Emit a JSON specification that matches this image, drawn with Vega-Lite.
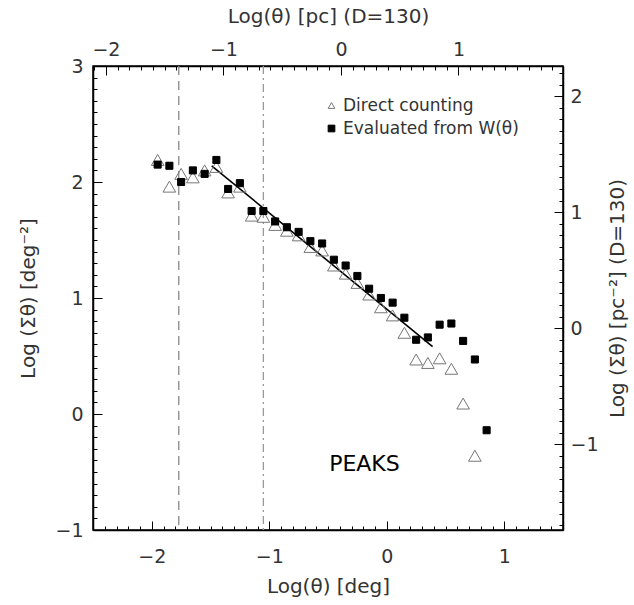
{
  "$schema": "https://vega.github.io/schema/vega-lite/v6.json",
  "width": 470,
  "height": 464,
  "autosize": "none",
  "padding": {"left": 93, "top": 66, "right": 71, "bottom": 75},
  "config": {
    "view": {"stroke": "black", "strokeWidth": 1.5},
    "font": "DejaVu Sans",
    "axis": {
      "grid": false,
      "domainColor": "black",
      "domainWidth": 1.5,
      "tickColor": "black",
      "tickWidth": 1,
      "labelFont": "DejaVu Sans",
      "labelFontSize": 19,
      "labelColor": "#333",
      "labelOverlap": false,
      "labelFlush": false,
      "titleFont": "DejaVu Sans",
      "titleFontSize": 20,
      "titleFontWeight": "normal",
      "titleColor": "#333"
    }
  },
  "layer": [
    {
      "data": {"values": [{}]},
      "mark": {"type": "rule", "color": "#888", "strokeDash": [9, 6], "strokeWidth": 1.3},
      "encoding": {"x": {"datum": -1.77, "type": "quantitative", "scale": {"domain": [-2.5, 1.5], "nice": false, "zero": false}, "axis": null}}
    },
    {
      "data": {"values": [{}]},
      "mark": {"type": "rule", "color": "#999", "strokeDash": [8, 4, 2, 4], "strokeWidth": 1.3},
      "encoding": {"x": {"datum": -1.05, "type": "quantitative", "scale": {"domain": [-2.5, 1.5], "nice": false, "zero": false}, "axis": null}}
    },
    {
      "data": {"values": [{"x": -1.49, "y": 2.14}, {"x": 0.39, "y": 0.58}]},
      "mark": {"type": "line", "color": "black", "strokeWidth": 1.6},
      "encoding": {
        "x": {"field": "x", "type": "quantitative", "scale": {"domain": [-2.5, 1.5], "nice": false, "zero": false}, "axis": null},
        "y": {"field": "y", "type": "quantitative", "scale": {"domain": [-1, 3], "nice": false, "zero": false}, "axis": null}
      }
    },
    {
      "data": {"values": [
        {"s": "Direct counting", "x": -1.95, "y": 2.19},
        {"s": "Direct counting", "x": -1.85, "y": 1.96},
        {"s": "Direct counting", "x": -1.75, "y": 2.07},
        {"s": "Direct counting", "x": -1.65, "y": 2.04},
        {"s": "Direct counting", "x": -1.55, "y": 2.10},
        {"s": "Direct counting", "x": -1.45, "y": 2.13},
        {"s": "Direct counting", "x": -1.35, "y": 1.91},
        {"s": "Direct counting", "x": -1.25, "y": 1.96},
        {"s": "Direct counting", "x": -1.15, "y": 1.71},
        {"s": "Direct counting", "x": -1.05, "y": 1.70},
        {"s": "Direct counting", "x": -0.95, "y": 1.63},
        {"s": "Direct counting", "x": -0.85, "y": 1.58},
        {"s": "Direct counting", "x": -0.75, "y": 1.54},
        {"s": "Direct counting", "x": -0.65, "y": 1.44},
        {"s": "Direct counting", "x": -0.55, "y": 1.41},
        {"s": "Direct counting", "x": -0.45, "y": 1.28},
        {"s": "Direct counting", "x": -0.35, "y": 1.21},
        {"s": "Direct counting", "x": -0.25, "y": 1.13},
        {"s": "Direct counting", "x": -0.15, "y": 1.03},
        {"s": "Direct counting", "x": -0.05, "y": 0.92},
        {"s": "Direct counting", "x": 0.05, "y": 0.85},
        {"s": "Direct counting", "x": 0.15, "y": 0.70},
        {"s": "Direct counting", "x": 0.25, "y": 0.47},
        {"s": "Direct counting", "x": 0.35, "y": 0.44},
        {"s": "Direct counting", "x": 0.45, "y": 0.48},
        {"s": "Direct counting", "x": 0.55, "y": 0.39},
        {"s": "Direct counting", "x": 0.65, "y": 0.09},
        {"s": "Direct counting", "x": 0.75, "y": -0.36},
        {"s": "Evaluated from W(θ)", "x": -1.95, "y": 2.15},
        {"s": "Evaluated from W(θ)", "x": -1.85, "y": 2.14},
        {"s": "Evaluated from W(θ)", "x": -1.75, "y": 2.00},
        {"s": "Evaluated from W(θ)", "x": -1.65, "y": 2.10},
        {"s": "Evaluated from W(θ)", "x": -1.55, "y": 2.07},
        {"s": "Evaluated from W(θ)", "x": -1.45, "y": 2.19},
        {"s": "Evaluated from W(θ)", "x": -1.35, "y": 1.94},
        {"s": "Evaluated from W(θ)", "x": -1.25, "y": 1.99},
        {"s": "Evaluated from W(θ)", "x": -1.15, "y": 1.75},
        {"s": "Evaluated from W(θ)", "x": -1.05, "y": 1.75},
        {"s": "Evaluated from W(θ)", "x": -0.95, "y": 1.66},
        {"s": "Evaluated from W(θ)", "x": -0.85, "y": 1.61},
        {"s": "Evaluated from W(θ)", "x": -0.75, "y": 1.57},
        {"s": "Evaluated from W(θ)", "x": -0.65, "y": 1.49},
        {"s": "Evaluated from W(θ)", "x": -0.55, "y": 1.47},
        {"s": "Evaluated from W(θ)", "x": -0.45, "y": 1.33},
        {"s": "Evaluated from W(θ)", "x": -0.35, "y": 1.28},
        {"s": "Evaluated from W(θ)", "x": -0.25, "y": 1.19},
        {"s": "Evaluated from W(θ)", "x": -0.15, "y": 1.08},
        {"s": "Evaluated from W(θ)", "x": -0.05, "y": 1.00},
        {"s": "Evaluated from W(θ)", "x": 0.05, "y": 0.96},
        {"s": "Evaluated from W(θ)", "x": 0.15, "y": 0.83},
        {"s": "Evaluated from W(θ)", "x": 0.25, "y": 0.64},
        {"s": "Evaluated from W(θ)", "x": 0.35, "y": 0.66},
        {"s": "Evaluated from W(θ)", "x": 0.45, "y": 0.77},
        {"s": "Evaluated from W(θ)", "x": 0.55, "y": 0.78},
        {"s": "Evaluated from W(θ)", "x": 0.65, "y": 0.63},
        {"s": "Evaluated from W(θ)", "x": 0.75, "y": 0.47},
        {"s": "Evaluated from W(θ)", "x": 0.85, "y": -0.14}
      ]},
      "mark": {"type": "point", "opacity": 1, "strokeWidth": 1},
      "encoding": {
        "x": {
          "field": "x", "type": "quantitative",
          "scale": {"domain": [-2.5, 1.5], "nice": false, "zero": false},
          "axis": {
            "orient": "bottom",
            "title": "Log(θ)  [deg]",
            "values": [-2.4,-2.3,-2.2,-2.1,-2,-1.9,-1.8,-1.7,-1.6,-1.5,-1.4,-1.3,-1.2,-1.1,-1,-0.9,-0.8,-0.7,-0.6,-0.5,-0.4,-0.3,-0.2,-0.1,0,0.1,0.2,0.3,0.4,0.5,0.6,0.7,0.8,0.9,1,1.1,1.2,1.3,1.4],
            "labelExpr": "abs(datum.value-round(datum.value))<0.001 ? format(round(datum.value),'d') : ''",
            "tickSize": {"condition": {"test": "abs(datum.value-round(datum.value))<0.001", "value": -9}, "value": -4},
            "labelPadding": 26,
            "titlePadding": 5
          }
        },
        "y": {
          "field": "y", "type": "quantitative",
          "scale": {"domain": [-1, 3], "nice": false, "zero": false},
          "axis": {
            "orient": "left",
            "title": "Log (Σθ)  [deg⁻²]",
            "values": [-1,-0.9,-0.8,-0.7,-0.6,-0.5,-0.4,-0.3,-0.2,-0.1,0,0.1,0.2,0.3,0.4,0.5,0.6,0.7,0.8,0.9,1,1.1,1.2,1.3,1.4,1.5,1.6,1.7,1.8,1.9,2,2.1,2.2,2.3,2.4,2.5,2.6,2.7,2.8,2.9,3],
            "labelExpr": "abs(datum.value-round(datum.value))<0.001 ? format(round(datum.value),'d') : ''",
            "tickSize": {"condition": {"test": "abs(datum.value-round(datum.value))<0.001", "value": -9}, "value": -4},
            "labelPadding": 19,
            "titlePadding": 16
          }
        },
        "shape": {
          "field": "s", "type": "nominal",
          "scale": {"domain": ["Direct counting", "Evaluated from W(θ)"], "range": ["triangle-up", "square"]},
          "legend": {"orient": "none", "legendX": 230, "legendY": 31, "title": null, "labelFontSize": 17, "labelLimit": 400, "labelColor": "#333", "labelFont": "DejaVu Sans", "symbolSize": 45, "symbolStrokeWidth": 1, "rowPadding": 5, "padding": 0, "labelOffset": 3}
        },
        "fill": {
          "field": "s", "type": "nominal",
          "scale": {"domain": ["Direct counting", "Evaluated from W(θ)"], "range": ["transparent", "black"]},
          "legend": {"orient": "none", "legendX": 230, "legendY": 31, "title": null, "labelFontSize": 17, "labelLimit": 400, "labelColor": "#333", "labelFont": "DejaVu Sans", "symbolSize": 45, "symbolStrokeWidth": 1, "rowPadding": 5, "padding": 0, "labelOffset": 3}
        },
        "stroke": {
          "field": "s", "type": "nominal",
          "scale": {"domain": ["Direct counting", "Evaluated from W(θ)"], "range": ["#777", "black"]},
          "legend": {"orient": "none", "legendX": 230, "legendY": 31, "title": null, "labelFontSize": 17, "labelLimit": 400, "labelColor": "#333", "labelFont": "DejaVu Sans", "symbolSize": 45, "symbolStrokeWidth": 1, "rowPadding": 5, "padding": 0, "labelOffset": 3}
        },
        "size": {
          "field": "s", "type": "nominal",
          "scale": {"domain": ["Evaluated from W(θ)", "Direct counting"], "range": [50, 160]},
          "legend": null
        }
      }
    },
    {
      "data": {"values": [{}]},
      "mark": {"type": "text", "text": "PEAKS", "fontSize": 22, "font": "DejaVu Sans", "color": "black"},
      "encoding": {
        "x": {"datum": -0.19, "type": "quantitative", "scale": {"domain": [-2.5, 1.5], "nice": false, "zero": false}, "axis": null},
        "y": {"datum": -0.43, "type": "quantitative", "scale": {"domain": [-1, 3], "nice": false, "zero": false}, "axis": null}
      }
    },
    {
      "data": {"values": [{}]},
      "mark": {"type": "point", "opacity": 0},
      "encoding": {
        "x": {
          "datum": 0, "type": "quantitative",
          "scale": {"domain": [-2.11, 1.89], "nice": false, "zero": false},
          "axis": {
            "orient": "top",
            "title": "Log(θ)  [pc]  (D=130)",
            "values": [-2.1,-2,-1.9,-1.8,-1.7,-1.6,-1.5,-1.4,-1.3,-1.2,-1.1,-1,-0.9,-0.8,-0.7,-0.6,-0.5,-0.4,-0.3,-0.2,-0.1,0,0.1,0.2,0.3,0.4,0.5,0.6,0.7,0.8,0.9,1,1.1,1.2,1.3,1.4,1.5,1.6,1.7,1.8],
            "labelExpr": "abs(datum.value-round(datum.value))<0.001 ? format(round(datum.value),'d') : ''",
            "tickSize": {"condition": {"test": "abs(datum.value-round(datum.value))<0.001", "value": -9}, "value": -4},
            "labelPadding": 16,
            "titlePadding": 9
          }
        },
        "y": {
          "datum": 0, "type": "quantitative",
          "scale": {"domain": [-1.74, 2.26], "nice": false, "zero": false},
          "axis": {
            "orient": "right",
            "title": "Log (Σθ)  [pc⁻²]  (D=130)",
            "titleAngle": 270,
            "values": [-1.7,-1.6,-1.5,-1.4,-1.3,-1.2,-1.1,-1,-0.9,-0.8,-0.7,-0.6,-0.5,-0.4,-0.3,-0.2,-0.1,0,0.1,0.2,0.3,0.4,0.5,0.6,0.7,0.8,0.9,1,1.1,1.2,1.3,1.4,1.5,1.6,1.7,1.8,1.9,2,2.1,2.2],
            "labelExpr": "abs(datum.value-round(datum.value))<0.001 ? format(round(datum.value),'d') : ''",
            "tickSize": {"condition": {"test": "abs(datum.value-round(datum.value))<0.001", "value": -9}, "value": -4},
            "labelPadding": 16,
            "titlePadding": 29
          }
        }
      }
    }
  ],
  "resolve": {
    "scale": {"x": "independent", "y": "independent"},
    "axis": {"x": "independent", "y": "independent"}
  }
}
